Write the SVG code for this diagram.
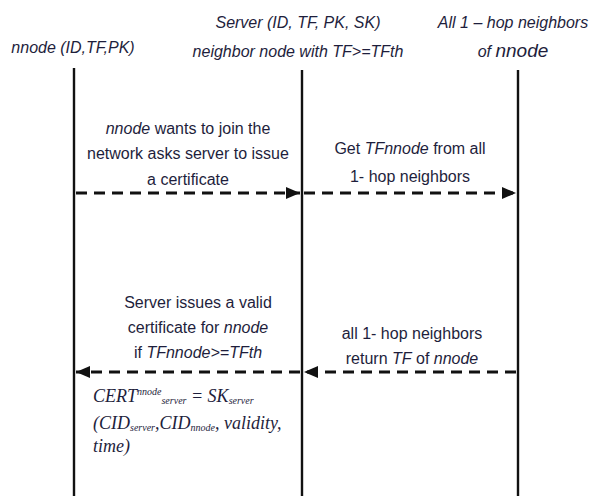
<svg xmlns="http://www.w3.org/2000/svg" width="594" height="496" viewBox="0 0 594 496">
<style>
.t{font-family:"Liberation Sans",Arial,sans-serif;font-size:16px;fill:#1e1e3c;text-anchor:middle}
.h{font-family:"Liberation Sans",Arial,sans-serif;font-size:16px;font-style:italic;fill:#1e1e3c;text-anchor:middle}
.i{font-style:italic}
.f{font-family:"Liberation Serif","Times New Roman",serif;font-size:18px;font-style:italic;fill:#1e1e3c}
.s{font-size:10px}
.life{stroke:#111;stroke-width:2.4;fill:none}
.msg{stroke:#111;stroke-width:2.8;stroke-dasharray:11,7;fill:none}
</style>
<defs>
<marker id="ah" viewBox="0 0 14 12" refX="14" refY="6" markerWidth="14" markerHeight="12" markerUnits="userSpaceOnUse" orient="auto">
<path d="M0,0 L14,6 L0,12 Z" fill="#111"/>
</marker>
</defs>
<g id="nnode">
<text class="h" x="73" y="53">nnode (ID,TF,PK)</text>
<line class="life" x1="74" y1="68" x2="74" y2="496"/>
</g>
<g id="server">
<text class="h" x="298" y="28">Server (ID, TF, PK, SK)</text>
<text class="h" x="298" y="57">neighbor node with TF&gt;=TFth</text>
<line class="life" x1="302" y1="70" x2="302" y2="496"/>
</g>
<g id="neighbors">
<text class="h" x="513" y="28">All 1 – hop neighbors</text>
<text class="h" x="513" y="57">of <tspan font-size="19">nnode</tspan></text>
<line class="life" x1="518" y1="70" x2="518" y2="496"/>
</g>
<g id="connectors">
<line class="msg" x1="76" y1="193" x2="300" y2="193" marker-end="url(#ah)"/>
<line class="msg" x1="304" y1="193" x2="516" y2="193" marker-end="url(#ah)"/>
<line class="msg" x1="516" y1="372" x2="304" y2="372" marker-end="url(#ah)"/>
<line class="msg" x1="300" y1="372" x2="76" y2="372" marker-end="url(#ah)"/>
</g>
<g id="labels">
<text class="t" x="188" y="134"><tspan class="i">nnode</tspan> wants to join the</text>
<text class="t" x="188" y="159">network asks server to issue</text>
<text class="t" x="188" y="185">a certificate</text>
<text class="t" x="410" y="154">Get <tspan class="i">TFnnode</tspan> from all</text>
<text class="t" x="410" y="182">1- hop neighbors</text>
<text class="t" x="198" y="308">Server issues a valid</text>
<text class="t" x="198" y="333">certificate for <tspan class="i">nnode</tspan></text>
<text class="t" x="198" y="358">if <tspan class="i">TFnnode&gt;=TFth</tspan></text>
<text class="t" x="412" y="339">all 1- hop neighbors</text>
<text class="t" x="412" y="364">return <tspan class="i">TF</tspan> of <tspan class="i">nnode</tspan></text>
<text class="f" x="93" y="402">CERT<tspan class="s" dy="-7">nnode</tspan><tspan class="s" dy="9">server</tspan><tspan dy="-2"> = SK</tspan><tspan class="s" dy="2">server</tspan></text>
<text class="f" x="93" y="429">(CID<tspan class="s" dy="2">server</tspan><tspan dy="-2">,CID</tspan><tspan class="s" dy="2">nnode</tspan><tspan dy="-2">, validity,</tspan></text>
<text class="f" x="93" y="452">time)</text>
</g>
</svg>
